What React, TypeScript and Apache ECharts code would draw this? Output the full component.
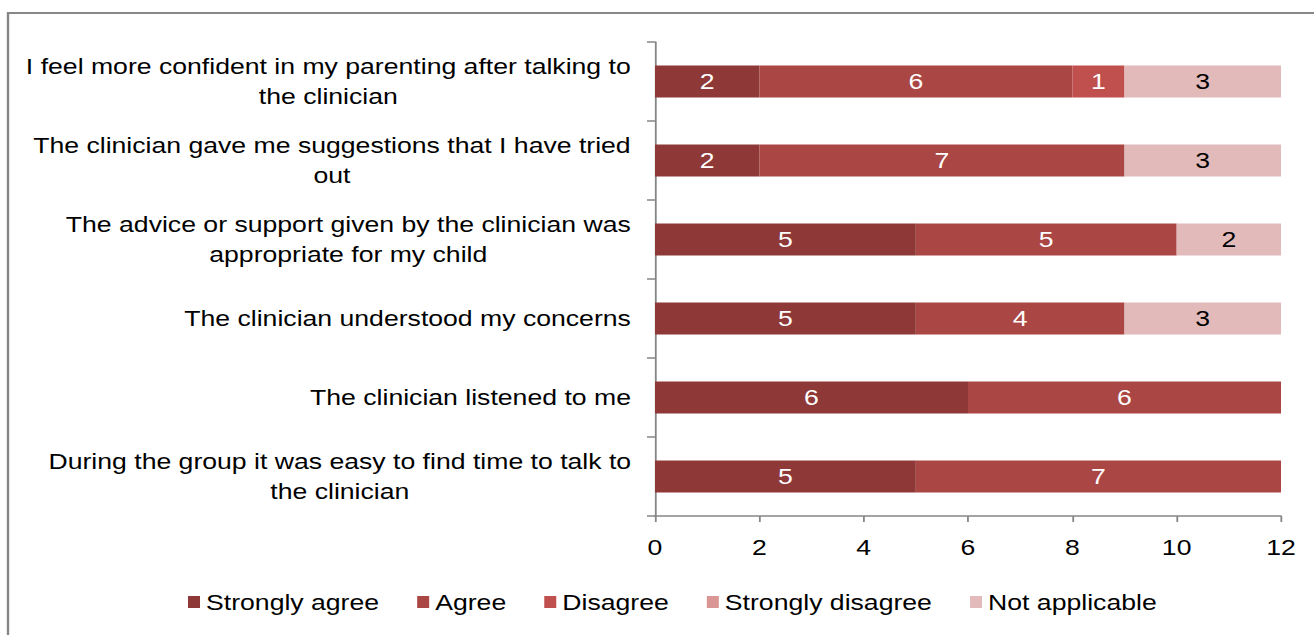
import React, { useEffect, useRef } from "react";
import * as echarts from "echarts";

const categories = [
  "I feel more confident in my parenting after talking to\nthe clinician",
  "The clinician gave me suggestions that I have tried\nout",
  "The advice or support given by the clinician was\nappropriate for my child",
  "The clinician understood my concerns",
  "The clinician listened to me",
  "During the group it was easy to find time to talk to\nthe clinician",
];
const seriesNames = ["Strongly agree", "Agree", "Disagree", "Strongly disagree", "Not applicable"];
const stronglyAgree = [2, 2, 5, 5, 6, 5];
const agree = [6, 7, 5, 4, 6, 7];
const disagree = [1, 0, 0, 0, 0, 0];
const stronglyDisagree = [0, 0, 0, 0, 0, 0];
const notApplicable = [3, 3, 2, 3, 0, 0];
const xTicks = [0, 2, 4, 6, 8, 10, 12];

const colors = ["#8E3937", "#AA4644", "#C0504D", "#D99694", "#E2BABA"];
const labelColors = ["#ffffff", "#ffffff", "#ffffff", "#000000", "#000000"];

// The reference is horizontally stretched; draw at a narrower width and stretch.
const SX = 1.21;
const W = Math.round(1314 / SX);
const FONT = "'Liberation Sans', Arial, sans-serif";

function measure(text: string): number {
  const c = document.createElement("canvas").getContext("2d")!;
  c.font = `22px ${FONT}`;
  return Math.max(...text.split("\n").map((l) => c.measureText(l).width));
}

export default function App() {
  const ref = useRef<HTMLDivElement>(null);
  useEffect(() => {
    const chart = echarts.init(ref.current!, null, { renderer: "svg" });
    const sx = 1314 / W;
    const values = [stronglyAgree, agree, disagree, stronglyDisagree, notApplicable];
    const rich: Record<string, any> = {};
    categories.forEach((c, i) => {
      rich["c" + i] = {
        width: Math.ceil(measure(c)) + 1,
        align: "center",
        fontSize: 22,
        lineHeight: 30,
        color: "#000",
        fontFamily: FONT,
      };
    });
    chart.setOption({
      animation: false,
      textStyle: { fontFamily: FONT },
      graphic: [
        {
          type: "rect",
          shape: { x: 8 / sx, y: 13, width: 1400, height: 700 },
          style: { fill: "none", stroke: "#878787", lineWidth: 2 },
          silent: true,
        },
      ],
      grid: { left: 655 / sx, right: W - 1281 / sx, top: 42, bottom: 119, containLabel: false },
      legend: {
        bottom: 22,
        left: 188 / sx,
        padding: 0,
        itemWidth: 12 / sx,
        itemHeight: 12,
        itemGap: 38 / sx,
        icon: "rect",
        textStyle: { fontSize: 22, color: "#000", fontFamily: FONT },
        data: seriesNames,
      },
      xAxis: {
        type: "value",
        min: 0,
        max: 12,
        interval: 2,
        splitLine: { show: false },
        axisLine: { show: true, lineStyle: { color: "#868686", width: 1.5 } },
        axisTick: { show: true, length: 6, lineStyle: { color: "#868686", width: 1.5 } },
        axisLabel: {
          fontSize: 22,
          color: "#000",
          margin: 20,
          fontFamily: FONT,
          formatter: (v: number) => (xTicks.includes(v) ? String(v) : ""),
        },
      },
      yAxis: {
        type: "category",
        data: categories,
        inverse: true,
        axisLine: { show: true, lineStyle: { color: "#868686", width: 1.5 } },
        axisTick: { show: true, length: 8 / sx, lineStyle: { color: "#868686", width: 1.5 } },
        axisLabel: {
          fontSize: 22,
          color: "#000",
          margin: 23 / sx,
          lineHeight: 30,
          align: "right",
          fontFamily: FONT,
          formatter: (v: string, i: number) => `{c${i}|${v}}`,
          rich,
        },
      },
      series: seriesNames.map((name, i) => ({
        name,
        type: "bar",
        stack: "total",
        barWidth: 32,
        data: values[i],
        itemStyle: { color: colors[i] },
        label: {
          show: true,
          position: "inside",
          fontSize: 22,
          color: labelColors[i],
          fontFamily: FONT,
          formatter: (p: any) => (p.value ? String(p.value) : ""),
        },
      })),
    });
    return () => chart.dispose();
  }, []);
  return (
    <div
      style={{
        position: "fixed",
        left: 0,
        top: 0,
        width: 1314,
        height: 635,
        overflow: "hidden",
        background: "#fff",
      }}
    >
      <div
        ref={ref}
        style={{
          width: W,
          height: 635,
          transform: `scaleX(${1314 / W})`,
          transformOrigin: "0 0",
        }}
      />
    </div>
  );
}
